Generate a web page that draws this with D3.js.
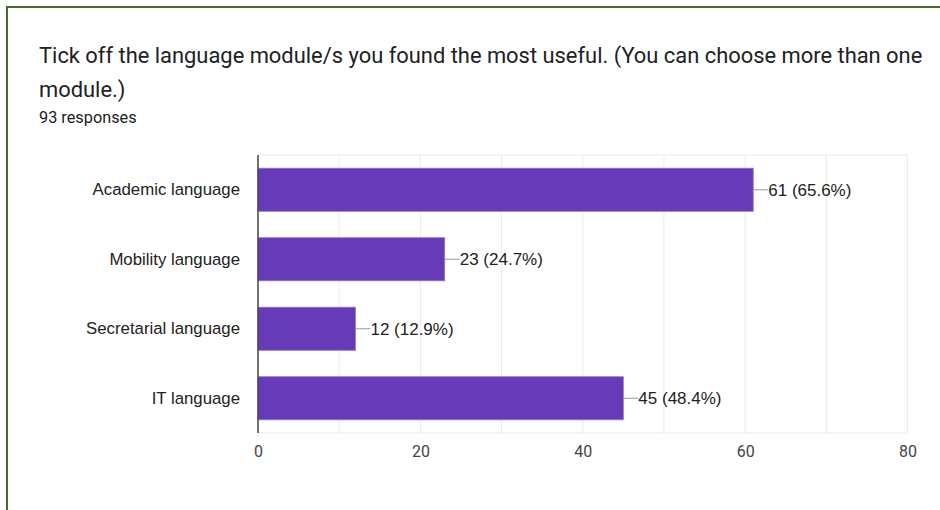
<!DOCTYPE html>
<html><head><meta charset="utf-8">
<script src="https://cdn.jsdelivr.net/npm/d3@7"></script>
<style>body{margin:0;background:#fff;}svg{display:block;}</style>
</head><body>
<svg id="c" width="940" height="510"></svg>
<script>
const categories = ["Academic language","Mobility language","Secretarial language","IT language"];
const values = [61, 23, 12, 45];
const percents = ["65.6%","24.7%","12.9%","48.4%"];
const tickValues = [0, 20, 40, 60, 80];
const titleLines = ["Tick off the language module/s you found the most useful. (You can choose more than one","module.)"];
const subtitle = "93 responses";

(function(){
const svg = d3.select("#c");
// border
svg.append("line").attr("x1",7).attr("x2",940).attr("y1",7).attr("y2",7).attr("stroke","#4a6a2b").attr("stroke-width",2);
svg.append("line").attr("x1",7).attr("x2",7).attr("y1",6).attr("y2",510).attr("stroke","#4a6a2b").attr("stroke-width",2);

svg.selectAll("text.title").data(titleLines).join("text").attr("class","title")
  .attr("x",39).attr("y",(d,i)=>63+i*34).attr("font-family","Roboto, Arial, sans-serif").attr("font-size",21.9).attr("fill","#202124").text(d=>d);
svg.append("text").attr("x",39).attr("y",123).attr("font-family","Roboto, Arial, sans-serif").attr("font-size",16.3).attr("fill","#202124").text(subtitle);

const pL=258, pR=907.5, pT=155, pB=433;
const x = d3.scaleLinear().domain([0,80]).range([pL,pR]);
const y = d3.scaleBand().domain(categories).range([pT,pB]).paddingInner(0.38).paddingOuter(0.19);

// grid
const g = svg.append("g");
g.selectAll("line.grid").data(d3.range(10,81,10)).join("line")
  .attr("x1",d=>x(d)).attr("x2",d=>x(d)).attr("y1",pT).attr("y2",pB).attr("stroke","#ebebeb").attr("stroke-width",1);
g.append("line").attr("x1",pL).attr("x2",pR).attr("y1",pT).attr("y2",pT).attr("stroke","#ebebeb");
g.append("line").attr("x1",pL).attr("x2",pR).attr("y1",pB).attr("y2",pB).attr("stroke","#ebebeb");

// bars
svg.selectAll("rect.bar").data(values).join("rect").attr("class","bar")
  .attr("x",x(0)).attr("y",(d,i)=>y(categories[i]))
  .attr("width",d=>x(d)-x(0)).attr("height",y.bandwidth())
  .attr("fill","#673ab7").attr("stroke","#9575cd").attr("stroke-width",0.8);

// axis line
svg.append("line").attr("x1",pL).attr("x2",pL).attr("y1",pT).attr("y2",pB).attr("stroke","#444").attr("stroke-width",1.5);

// x axis tick labels
const xa = svg.append("g").attr("transform",`translate(0,${pB})`)
  .call(d3.axisBottom(x).tickValues(tickValues).tickSize(0).tickPadding(13));
xa.select(".domain").remove();
xa.selectAll("text").attr("font-family","Roboto, Arial, sans-serif").attr("font-size",16).attr("fill","#444");

// y labels
const ya = svg.append("g").attr("transform",`translate(${pL},0)`)
  .call(d3.axisLeft(y).tickSize(0).tickPadding(18));
ya.select(".domain").remove();
ya.selectAll("text").attr("font-family","Liberation Sans, Arial, sans-serif").attr("font-size",16.8).attr("fill","#222");

// value labels
const lab = svg.selectAll("g.lab").data(values).join("g").attr("class","lab")
  .attr("transform",(d,i)=>`translate(${x(d)},${y(categories[i])+y.bandwidth()/2})`);
lab.append("line").attr("x1",0).attr("x2",15).attr("stroke","#999").attr("stroke-width",1);
lab.append("text").attr("x",15).attr("dy","0.35em").attr("font-family","Liberation Sans, Arial, sans-serif").attr("font-size",17).attr("fill","#222")
  .text((d,i)=>`${d} (${percents[i]})`);
})();
</script>
</body></html>
